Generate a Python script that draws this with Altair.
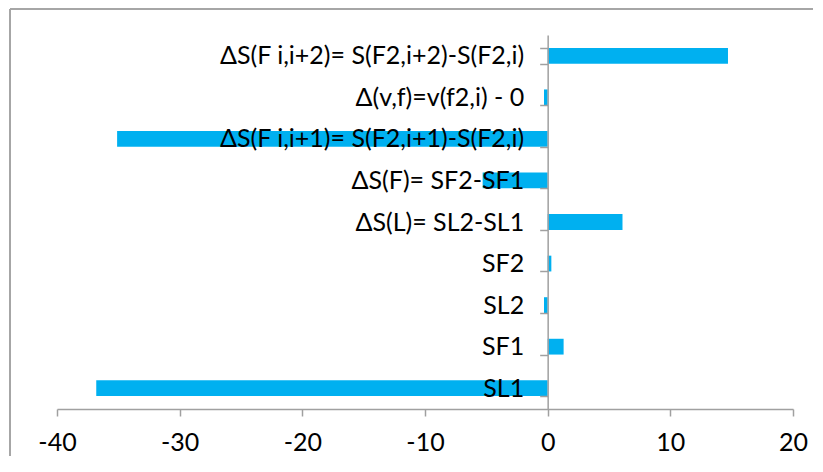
import altair as alt
import pandas as pd

categories = [
    "ΔS(F i,i+2)= S(F2,i+2)-S(F2,i)",
    "Δ(v,f)=v(f2,i) - 0",
    "ΔS(F i,i+1)= S(F2,i+1)-S(F2,i)",
    "ΔS(F)= SF2-SF1",
    "ΔS(L)= SL2-SL1",
    "SF2",
    "SL2",
    "SF1",
    "SL1",
]
values = [14.7, -0.3, -35.1, -5.3, 6.1, 0.3, -0.3, 1.3, -36.8]
x_ticks = [-40, -30, -20, -10, 0, 10, 20]

df = pd.DataFrame({"cat": categories, "val": values})

W, H = 736, 374
FONT = "Lato"
GRAY = "#a0a0a0"
zero_px = (0 - (-40)) / 60 * W

bars = alt.Chart(df).mark_bar(color="#00B0F0").encode(
    x=alt.X("val:Q",
            scale=alt.Scale(domain=[-40, 20], nice=False, zero=False),
            axis=alt.Axis(values=x_ticks, title=None, grid=False,
                          labelExpr="replace(datum.label, '\u2212', '-')",
                          domainColor=GRAY, domainWidth=1.5,
                          tickColor=GRAY, tickWidth=1.5, tickSize=7,
                          labelFont=FONT, labelFontSize=25, labelColor="#000000",
                          labelPadding=14, labelFlush=False)),
    y=alt.Y("cat:N", sort=categories,
            scale=alt.Scale(paddingInner=0.62, paddingOuter=0.31),
            axis=alt.Axis(title=None, offset=-zero_px, zindex=1,
                          domainColor=GRAY, domainWidth=1.5,
                          tickColor=GRAY, tickWidth=1.5, tickSize=8,
                          tickBand="extent",
                          labelFont=FONT, labelFontSize=25, labelColor="#000000",
                          labelPadding=16, labelLimit=0)),
)

border_top = alt.Chart(df).mark_rule(color="#a6a6a6", strokeWidth=2).encode(
    x=alt.value(-47), x2=alt.value(W + 30), y=alt.value(-26)
)
border_left = alt.Chart(df).mark_rule(color="#a6a6a6", strokeWidth=2).encode(
    x=alt.value(-47), y=alt.value(-26), y2=alt.value(H + 60)
)

chart = alt.layer(bars, border_top, border_left).properties(
    width=W, height=H,
    autosize=alt.AutoSizeParams(type="none"),
    padding={"left": 49, "top": 27, "right": 20, "bottom": 47},
).configure_view(stroke=None)

chart.save("out.html", embed_options={"renderer": "svg", "actions": False})
